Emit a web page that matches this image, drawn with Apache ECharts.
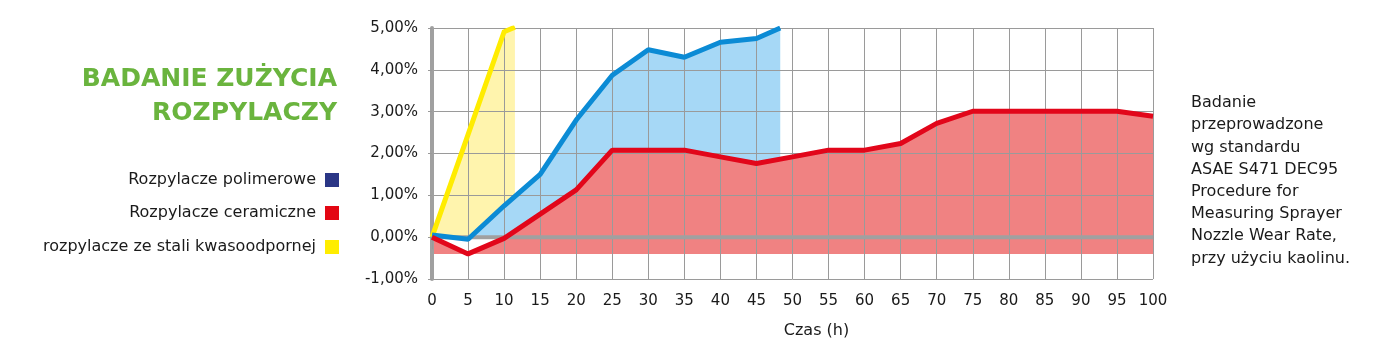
<!DOCTYPE html>
<html>
<head>
<meta charset="utf-8">
<script src="https://cdn.jsdelivr.net/npm/echarts@6/dist/echarts.min.js"></script>
<style>html,body{margin:0;padding:0;background:#fff;}#c{width:1386px;height:361px;}</style>
</head>
<body>
<div id="c"></div>
<script>
const FONT = 'DejaVu Sans';
const seriesNames = ['Rozpylacze polimerowe', 'Rozpylacze ceramiczne', 'rozpylacze ze stali kwasoodpornej'];
const legendColors = ['#2b3686', '#e30613', '#ffed00'];
const polimerowe = [[0, 0.05], [5, -0.05], [10, 0.75], [15, 1.5], [20, 2.8], [25, 3.87], [30, 4.48], [35, 4.3], [40, 4.66], [45, 4.75], [48.3, 5.0]];
const ceramiczne = [[0, 0], [5, -0.4], [10, -0.03], [15, 0.55], [20, 1.13], [25, 2.08], [30, 2.08], [35, 2.08], [40, 1.92], [45, 1.76], [50, 1.92], [55, 2.08], [60, 2.08], [65, 2.24], [70, 2.72], [75, 3.01], [80, 3.01], [85, 3.01], [90, 3.01], [95, 3.01], [100, 2.89]];
const stal = [[0, 0], [5, 2.45], [10, 4.91], [11.5, 5.02]];
const zeroLine = [[0, 0], [100, 0]];
const titleLines = ['BADANIE ZUŻYCIA', 'ROZPYLACZY'];
const noteLines = ['Badanie', 'przeprowadzone', 'wg standardu', 'ASAE S471 DEC95', 'Procedure for', 'Measuring Sprayer', 'Nozzle Wear Rate,', 'przy użyciu kaolinu.'];
const xName = 'Czas (h)';

const chart = echarts.init(document.getElementById('c'));
const legendTops = [172, 205, 239];
const option = {
  backgroundColor: '#fff',
  animation: false,
  textStyle: { fontFamily: FONT },
  grid: { left: 432, right: 233, top: 28, bottom: 82 },
  legend: seriesNames.map((n, i) => ({
    data: [{ name: n, itemStyle: { color: legendColors[i] } }],
    right: 1047, top: legendTops[i], orient: 'vertical', align: 'right',
    icon: 'rect', itemWidth: 14, itemHeight: 14, padding: 0,
    selectedMode: false,
    textStyle: { fontFamily: FONT, fontSize: 16, color: '#1a1a1a', padding: [0, 4, 0, 0] }
  })),
  graphic: [
    { type: 'text', x: 337, y: 62, style: { text: titleLines.join('\n'), align: 'right', font: 'bold 25px "' + FONT + '"', fill: '#6ab43e', lineHeight: 34 } },
    { type: 'text', x: 1191, y: 92, style: { text: noteLines.join('\n'), align: 'left', font: '16px "' + FONT + '"', fill: '#1a1a1a', lineHeight: 22.2 } }
  ],
  xAxis: {
    type: 'value', min: 0, max: 100, interval: 5, z: 2,
    name: xName, nameLocation: 'middle', nameGap: 44,
    nameTextStyle: { fontFamily: FONT, fontSize: 16, color: '#1a1a1a', padding: [0, 0, 0, 48] },
    axisLine: { show: false },
    axisTick: { show: true, length: 12, lineStyle: { color: '#9a9a9a', width: 1 } },
    axisLabel: { margin: 15, fontFamily: FONT, fontSize: 15, color: '#1a1a1a' },
    splitLine: { show: true, lineStyle: { color: '#9a9a9a', width: 1 } }
  },
  yAxis: {
    type: 'value', min: -1, max: 5, interval: 1, z: 2,
    axisLine: { show: true, lineStyle: { color: '#a0a0a0', width: 4 } },
    axisTick: { show: true, length: 4, lineStyle: { color: '#9a9a9a', width: 1 } },
    axisLabel: { margin: 14, fontFamily: FONT, fontSize: 15, color: '#1a1a1a',
      formatter: v => v.toFixed(2).replace('.', ',') + '%' },
    splitLine: { show: true, lineStyle: { color: '#9a9a9a', width: 1 } }
  },
  series: [
    { type: 'line', data: stal, z: 1, symbol: 'none', silent: true, lineStyle: { width: 0 },
      areaStyle: { color: '#fff4ad', opacity: 1, origin: 0 } },
    { type: 'line', data: polimerowe, z: 1, symbol: 'none', silent: true, lineStyle: { width: 0 },
      areaStyle: { color: '#a6d8f6', opacity: 1, origin: 0 } },
    { type: 'line', data: ceramiczne, z: 1, symbol: 'none', silent: true, lineStyle: { width: 0 },
      areaStyle: { color: '#f08282', opacity: 1, origin: -0.4 } },
    { type: 'line', data: zeroLine, z: 2, symbol: 'none', silent: true,
      lineStyle: { color: '#a0a0a0', width: 4 } },
    { name: seriesNames[2], type: 'line', data: stal, z: 4, symbol: 'none',
      lineStyle: { color: '#ffec00', width: 5, join: 'miter' }, itemStyle: { color: legendColors[2] } },
    { name: seriesNames[0], type: 'line', data: polimerowe, z: 4, symbol: 'none',
      lineStyle: { color: '#0b8bd5', width: 5 }, itemStyle: { color: legendColors[0] } },
    { name: seriesNames[1], type: 'line', data: ceramiczne, z: 4, symbol: 'none',
      lineStyle: { color: '#e2061a', width: 5 }, itemStyle: { color: legendColors[1] } }
  ]
};
chart.setOption(option);
</script>
</body>
</html>
